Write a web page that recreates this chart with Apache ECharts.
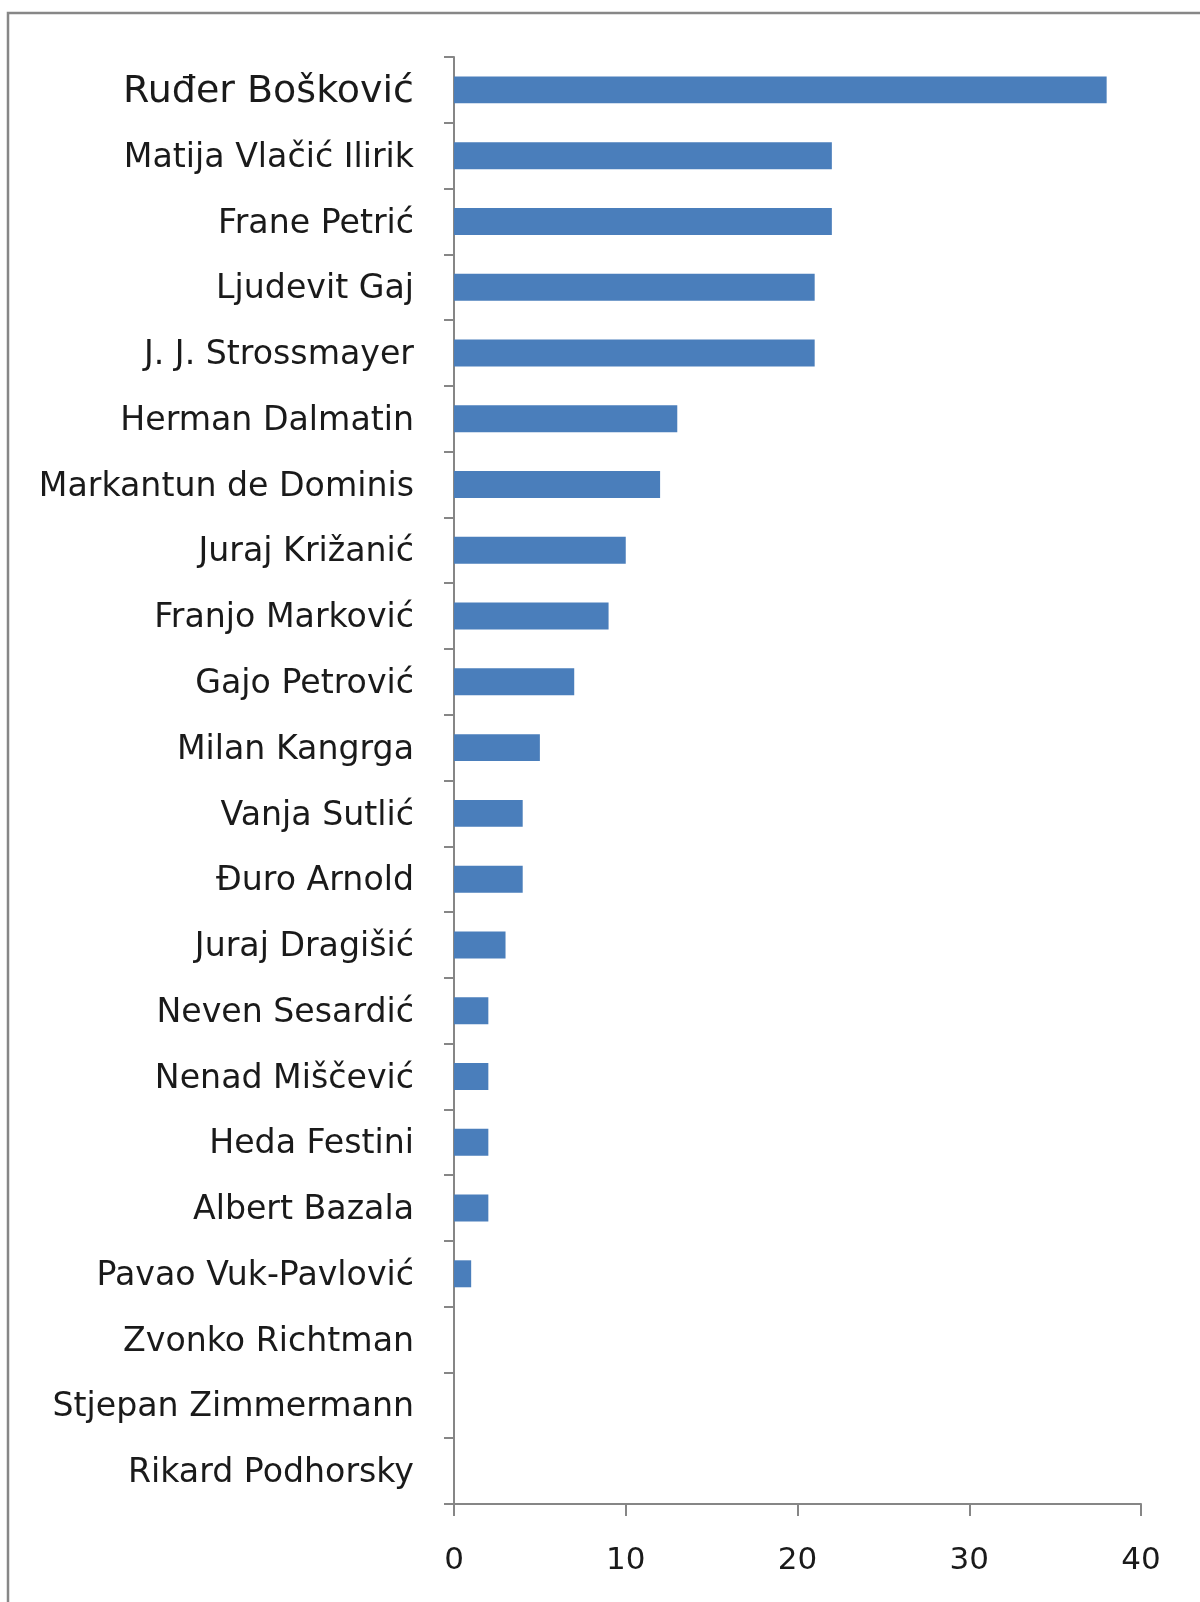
<!DOCTYPE html>
<html>
<head>
<meta charset="utf-8">
<script src="https://cdn.jsdelivr.net/npm/echarts@6/dist/echarts.min.js"></script>
<style>
html,body{margin:0;padding:0;background:#fff;}
#chart{width:1200px;height:1602px;}
</style>
</head>
<body>
<div id="chart"></div>
<script>
const categories = [
  "Ruđer Bošković", "Matija Vlačić Ilirik", "Frane Petrić", "Ljudevit Gaj",
  "J. J. Strossmayer", "Herman Dalmatin", "Markantun de Dominis", "Juraj Križanić",
  "Franjo Marković", "Gajo Petrović", "Milan Kangrga", "Vanja Sutlić",
  "Đuro Arnold", "Juraj Dragišić", "Neven Sesardić", "Nenad Miščević",
  "Heda Festini", "Albert Bazala", "Pavao Vuk-Pavlović", "Zvonko Richtman",
  "Stjepan Zimmermann", "Rikard Podhorsky"
];
const values = [38, 22, 22, 21, 21, 13, 12, 10, 9, 7, 5, 4, 4, 3, 2, 2, 2, 2, 1, 0, 0, 0];
const xTicks = [0, 10, 20, 30, 40];

const chart = echarts.init(document.getElementById('chart'), null, {renderer: 'canvas'});
const font = 'DejaVu Sans';
chart.setOption({
  backgroundColor: '#ffffff',
  animation: false,
  graphic: [{
    type: 'rect',
    shape: {x: 8, y: 13, width: 1400, height: 1800},
    style: {fill: 'none', stroke: '#878787', lineWidth: 2.5},
    silent: true
  }],
  grid: {left: 454, right: 59, top: 57, bottom: 98, containLabel: false},
  xAxis: {
    type: 'value',
    min: xTicks[0],
    max: xTicks[xTicks.length - 1],
    interval: 10,
    splitLine: {show: false},
    axisLine: {show: true, lineStyle: {color: '#868686', width: 2}},
    axisTick: {show: true, length: 12, lineStyle: {color: '#868686', width: 2}},
    axisLabel: {
      margin: 41, fontFamily: font, fontSize: 31, color: '#1a1a1a',
      formatter: function (v) { return xTicks.indexOf(v) >= 0 ? String(v) : ''; }
    }
  },
  yAxis: {
    type: 'category',
    data: categories,
    inverse: true,
    axisLine: {show: true, lineStyle: {color: '#868686', width: 2}},
    axisTick: {show: true, length: 10, inside: false, lineStyle: {color: '#868686', width: 2}},
    axisLabel: {
      margin: 40, fontFamily: font, fontSize: 33.2, color: '#1a1a1a',
      padding: [5, 0, 0, 0],
      formatter: function (v, i) { return i === 0 ? '{big|' + v + '}' : v; },
      rich: {big: {fontFamily: font, fontSize: 38, color: '#1a1a1a'}}
    }
  },
  series: [{
    type: 'bar',
    data: values,
    barWidth: '41%',
    itemStyle: {color: '#4a7ebb', borderWidth: 0}
  }]
});
</script>
</body>
</html>
